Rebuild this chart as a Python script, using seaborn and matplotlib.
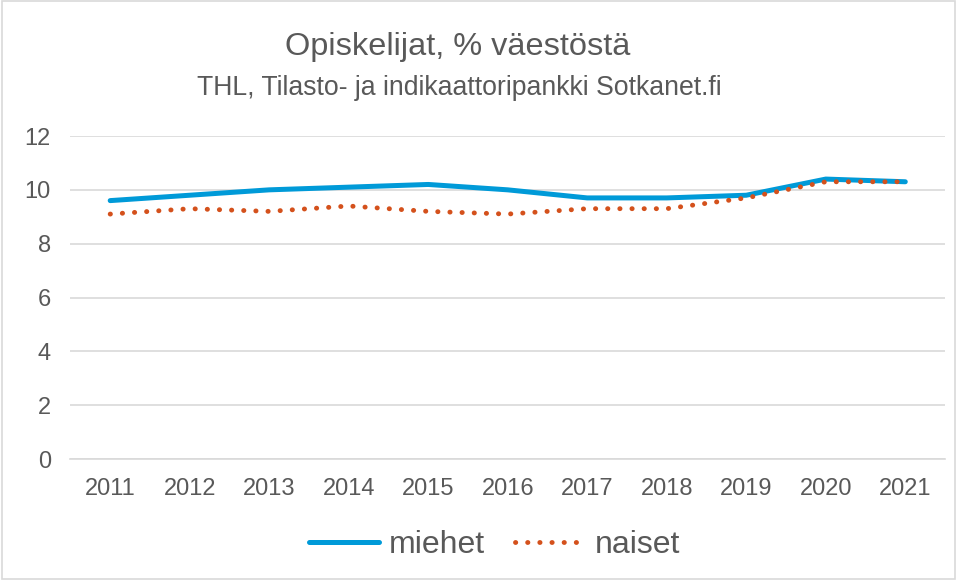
import pandas as pd
import seaborn as sns
import matplotlib.pyplot as plt
from matplotlib.patches import Rectangle

years = [2011, 2012, 2013, 2014, 2015, 2016, 2017, 2018, 2019, 2020, 2021]
miehet = [9.6, 9.8, 10.0, 10.1, 10.2, 10.0, 9.7, 9.7, 9.8, 10.4, 10.3]
naiset = [9.1, 9.3, 9.2, 9.4, 9.2, 9.1, 9.3, 9.3, 9.7, 10.3, 10.3]
y_ticks = [0, 2, 4, 6, 8, 10, 12]

title = "Opiskelijat, % väestöstä"
subtitle = "THL, Tilasto- ja indikaattoripankki Sotkanet.fi"

txt = "#595959"
grid = "#d9d9d9"

sns.set_theme(style="white")
plt.rcParams['font.family'] = ['Liberation Sans', 'DejaVu Sans']

df = pd.DataFrame({"vuosi": years, "miehet": miehet, "naiset": naiset})

fig = plt.figure(figsize=(9.57, 5.8), dpi=100)
ax = fig.add_axes([0.0736, 0.2086, 0.9139, 0.5569])

sns.lineplot(data=df, x="vuosi", y="miehet", ax=ax, color="#009ad8",
             lw=3.6, label="miehet", solid_capstyle="round")
sns.lineplot(data=df, x="vuosi", y="naiset", ax=ax, color="#d4511c",
             lw=3.5, label="naiset", linestyle=(0, (0.05, 2.45)),
             dash_capstyle="round")

ax.set_xlim(2010.5, 2021.5)
ax.set_ylim(0, 12)
ax.set_yticks(y_ticks)
ax.set_xticks(years)
ax.set_xticklabels([str(y) for y in years])
ax.yaxis.grid(True, color=grid, lw=1.2)
ax.set_axisbelow(True)
for s in ["top", "right", "left"]:
    ax.spines[s].set_visible(False)
ax.spines["bottom"].set_color(grid)
ax.spines["bottom"].set_linewidth(1.2)
ax.tick_params(axis="both", length=0, labelsize=17, labelcolor=txt)
ax.tick_params(axis="x", pad=14)
ax.tick_params(axis="y", pad=14)
ax.set_xlabel("")
ax.set_ylabel("")

leg = ax.legend(loc="center", bbox_to_anchor=(0.517, 0.06), bbox_transform=fig.transFigure,
                ncol=2, frameon=False, fontsize=23, handlelength=2.2,
                handletextpad=0.3, columnspacing=0.95, labelcolor=txt)

fig.text(0.478, 0.919, title, ha="center", va="center", fontsize=23.4, color=txt)
fig.text(0.48, 0.848, subtitle, ha="center", va="center", fontsize=19.2, color=txt)

fig.patches.append(Rectangle((0.002, 0.002), 0.996, 0.996, transform=fig.transFigure,
                             fill=False, edgecolor=grid, lw=1.2))

fig.savefig("out.png", dpi=100)
